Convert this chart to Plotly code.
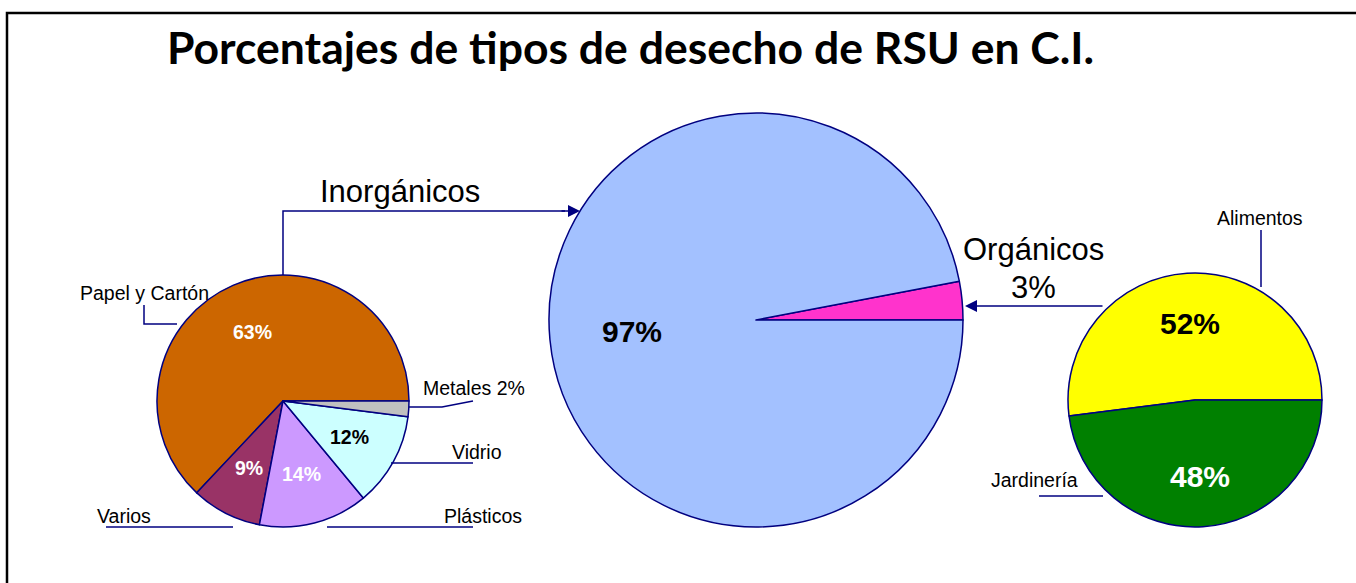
import math

import plotly.graph_objects as go

W, H = 1356, 583

# data
inorg_labels = ['Papel y Cartón', 'Varios', 'Plásticos', 'Vidrio', 'Metales']
inorg_values = [63, 9, 14, 12, 2]
inorg_colors = ['#CC6600', '#993366', '#CC99FF', '#CCFFFF', '#C0C0C0']
inorg_txtcol = ['white', 'white', 'white', 'black', None]

total_labels = ['Orgánicos', 'Inorgánicos']
total_values = [3, 97]
total_colors = ['#FF33CC', '#A3C1FF']

org_labels = ['Alimentos', 'Jardinería']
org_values = [52, 48]
org_colors = ['#FFFF00', '#008000']
org_txtcol = ['black', 'white']

NAVY = '#000080'
FONT = 'Liberation Sans, Arial, sans-serif'

# pie geometry (pixels): center x, center y, radius
PIES = {
    'inorg': (283, 401, 126),
    'total': (756, 320, 207),
    'org': (1195, 400, 127),
}


def px(x):
    return x / W


def py(y):
    return 1 - y / H


def domain(key):
    cx, cy, r = PIES[key]
    return dict(x=[px(cx - r), px(cx + r)], y=[py(cy + r), py(cy - r)])


fig = go.Figure()

for key, labels, values, colors in [('inorg', inorg_labels, inorg_values, inorg_colors),
                                    ('total', total_labels, total_values, total_colors),
                                    ('org', org_labels, org_values, org_colors)]:
    # first slice starts at 3 o'clock and runs counterclockwise
    rot = 90 - values[0] / sum(values) * 360
    fig.add_trace(go.Pie(labels=labels, values=values, sort=False,
                         direction='counterclockwise', rotation=rot,
                         marker=dict(colors=colors, line=dict(color=NAVY, width=1.5)),
                         textinfo='none', showlegend=False, domain=domain(key),
                         hovertemplate='%{label}: %{value}%<extra></extra>'))


def pct_labels(key, values, txtcols, size, skip=()):
    cx, cy, r = PIES[key]
    tot = sum(values)
    start = 0.0
    for i, v in enumerate(values):
        ang = (start + v / 2) / tot * 2 * math.pi
        start += v
        if i in skip:
            continue
        x = cx + 0.6 * r * math.cos(ang)
        y = cy - 0.6 * r * math.sin(ang)
        fig.add_annotation(x=px(x), y=py(y), xref='paper', yref='paper', showarrow=False,
                           xanchor='center', yanchor='middle',
                           text='<b>%d%%</b>' % v,
                           font=dict(family=FONT, size=size, color=txtcols[i]))


pct_labels('inorg', inorg_values, inorg_txtcol, 19.5, skip=(4,))
pct_labels('total', total_values, ['black', 'black'], 30, skip=(0,))
pct_labels('org', org_values, org_txtcol, 30)


def text(x, y, s, size, anchor='center'):
    fig.add_annotation(x=px(x), y=py(y), xref='paper', yref='paper', showarrow=False,
                       text=s, xanchor=anchor, yanchor='middle',
                       font=dict(family=FONT, size=size, color='black'))


def line(pts, color=NAVY, width=1.5):
    path = 'M ' + ' L '.join('%f,%f' % (px(a), py(b)) for a, b in pts)
    fig.add_shape(type='path', path=path, xref='paper', yref='paper',
                  line=dict(color=color, width=width))


def arrow(x0, y0, x1, y1):
    fig.add_annotation(x=px(x1), y=py(y1), ax=x0 - x1, ay=y0 - y1, xref='paper', yref='paper',
                       axref='pixel', ayref='pixel', text='', showarrow=True,
                       arrowhead=2, arrowsize=1.6, arrowwidth=1.5, arrowcolor=NAVY)


# outside labels and leader lines
text(144, 293, inorg_labels[0], 19.5)
line([(177, 324), (144, 324), (144, 305)])
text(421, 388, '%s %d%%' % (inorg_labels[4], inorg_values[4]), 19.5, 'left')
line([(409, 407), (442, 407), (473, 401)])
text(477, 452, inorg_labels[3], 19.5)
line([(391, 463), (473, 463)])
text(483, 516, inorg_labels[2], 19.5)
line([(327, 527), (473, 527)])
text(124, 516, inorg_labels[1], 19.5)
line([(106, 527), (233, 527)])

text(1260, 218, org_labels[0], 19.5)
line([(1261, 230), (1261, 287)])
text(1034, 480, org_labels[1], 19.5)
line([(1039, 496), (1103, 496)])

# connectors between pies
text(400, 192, total_labels[1], 31)
line([(283, 275), (283, 211), (565, 211)])
arrow(560, 211, 580, 211)
text(1033, 249, total_labels[0], 31)
text(1033, 287, '%d%%' % total_values[0], 31)
arrow(1104, 306, 965, 306)

# frame
line([(7, H + 5), (7, 13), (W + 5, 13)], color='black', width=2.5)

fig.add_annotation(x=px(630), y=py(47), xref='paper', yref='paper', showarrow=False,
                   xanchor='center', yanchor='middle',
                   text='<b>Porcentajes de tipos de desecho de RSU en C.I.</b>',
                   font=dict(family='Lato, Open Sans, sans-serif', size=44.5, color='black'))

fig.update_layout(width=W, height=H, margin=dict(l=0, r=0, t=0, b=0),
                  paper_bgcolor='white', plot_bgcolor='white')

fig.write_html("out.html", config={'displayModeBar': False},
               post_script="document.body.style.margin='0';document.body.style.overflow='hidden';")
